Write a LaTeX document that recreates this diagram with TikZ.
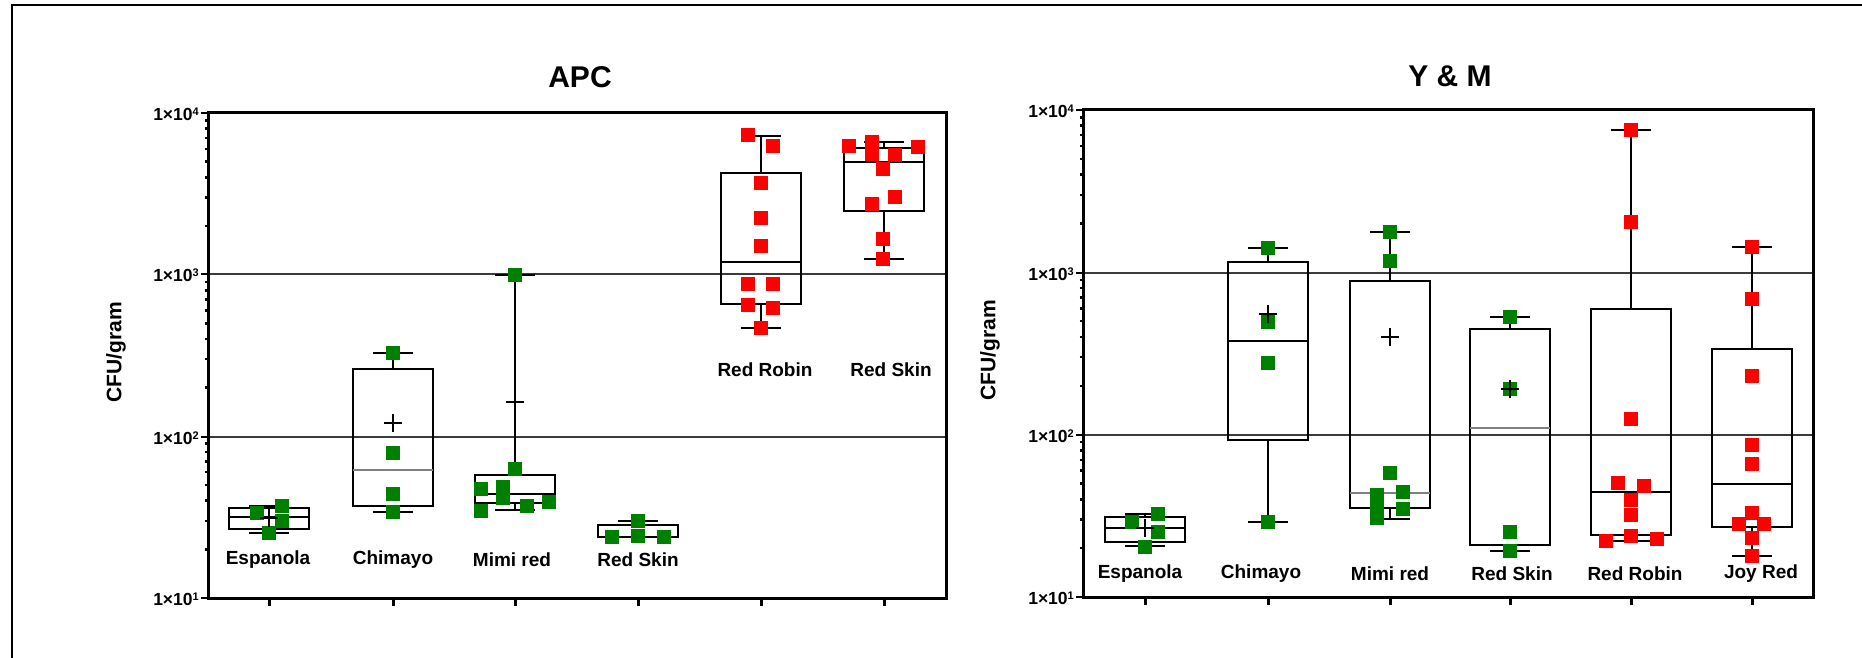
\documentclass[tikz,border=0pt]{standalone}
\usepackage{fontspec}
\setmainfont{Liberation Sans}
\definecolor{ptgreen}{RGB}{0,128,0}
\definecolor{ptred}{RGB}{255,0,0}
\definecolor{gridc}{RGB}{60,60,60}
\newcommand\bxp[8]{%
 \draw[line width=#7] ({#1-40},#2) rectangle ({#1+40},#3);
 \draw[line width=#7,#8] ({#1-40},#4) -- ({#1+40},#4);
 \draw[line width=#7] (#1,#2) -- (#1,#5) ({#1-20},#5) -- ({#1+20},#5);
 \draw[line width=#7] (#1,#3) -- (#1,#6) ({#1-20},#6) -- ({#1+20},#6);
}
\newcommand\mnmark[2]{\draw[line width=1.3] ({#1-9},#2) -- ({#1+9},#2) (#1,{#2-9}) -- (#1,{#2+9});}
\newcommand\ticklab[2]{1×10\raisebox{5pt}{\fontsize{11}{11}\selectfont #2}}
\begin{document}
\begin{tikzpicture}[x=1pt,y=-1pt,
  gsq/.style={fill=ptgreen,draw=none,minimum size=13.5pt,inner sep=0pt,outer sep=0pt},
  rsq/.style={fill=ptred,draw=none,minimum size=13.5pt,inner sep=0pt,outer sep=0pt},
  lbl/.style={font=\fontsize{19}{19}\selectfont\bfseries,inner sep=0pt},
  ttl/.style={font=\fontsize{30}{30}\selectfont\bfseries,inner sep=0pt},
  tk/.style={font=\fontsize{17.5}{17.5}\selectfont\bfseries,inner sep=0pt,anchor=east},
  ylab/.style={font=\fontsize{21}{21}\selectfont\bfseries,inner sep=0pt,rotate=90},
  grid/.style={draw=gridc,line width=1.6},
  ax/.style={line width=3}]
\useasboundingbox (0,0) rectangle (1862,658);
\fill[white] (0,0) rectangle (1862,658);
% outer frame
\draw[line width=2] (12,658) -- (12,5) -- (1862,5);

% ================= APC =================
\node[ttl] (tapc) at (580,77) {APC};
\node[ylab] (yapc) at (116,352) {CFU/gram};
\draw[grid] (208,274) -- (946,274);
\draw[grid] (208,437) -- (946,437);
\foreach \d in {0,1,2} \foreach \k in {2,...,9} {
  \pgfmathsetmacro\yy{598-161.67*(\d+log10(\k))}
  \draw[line width=2.5] (204.5,\yy) -- (208,\yy);
}
\foreach \yy/\e in {113/4,274/3,437/2,598/1} {
  \draw[line width=2.5] (201,\yy) -- (208,\yy);
  \node[tk] at (199,{\yy+1}) {\ticklab{}{\e}};
}
\foreach \xx in {269,393,515,638,761,884} \draw[ax] (\xx,598) -- (\xx,606);
\draw[ax] (208,113) -- (946,113) -- (946,598) -- (208,598) -- cycle;

\bxp{269}{508}{529}{517}{506}{533}{1.5}{}
\bxp{393}{369}{506}{470}{353}{512}{1.5}{gray}
\bxp{515}{475}{503}{494}{275}{510}{1.5}{}
\bxp{638}{525}{537}{537}{521}{537}{1.5}{}
\bxp{761}{173}{304}{262}{136}{328}{2.5}{}
\bxp{884}{148}{211}{162}{142}{259}{2.5}{}

\foreach \p in {(257,513),(282,506),(282,521),(269,533),
  (393,353),(393,453),(393,494),(393,512),
  (515,275),(515,469),(481,489),(503,487),(503,498),(527,506),(549,502),(481,511),
  (638,521),(612,537),(638,536),(664,537)} \node[gsq] at \p {};
\foreach \p in {(748,135),(773,146),(761,183),(761,218),(761,246),(748,284),(773,284),(748,305),(773,308),(761,328),
  (849,146),(872,142),(872,154),(895,155),(918,147),(883,169),(895,197),(872,204),(883,239),(883,259)} \node[rsq] at \p {};
\mnmark{269}{518}
\mnmark{393}{423}
\mnmark{515}{402}

\node[lbl] (a1) at (268,560) {Espanola};
\node[lbl] (a2) at (393,560) {Chimayo};
\node[lbl] (a3) at (512,560) {Mimi red};
\node[lbl] (a4) at (638,560) {Red Skin};
\node[lbl] (a5) at (765,370) {Red Robin};
\node[lbl] (a6) at (891,370) {Red Skin};

% ================= Y & M =================
\node[ttl] (tym) at (1450,76) {Y \& M};
\node[ylab] (yym) at (990,350) {CFU/gram};
\draw[grid] (1083,273) -- (1813,273);
\draw[grid] (1083,435) -- (1813,435);
\foreach \d in {0,1,2} \foreach \k in {2,...,9} {
  \pgfmathsetmacro\yy{597-162.33*(\d+log10(\k))}
  \draw[line width=2.5] (1079.5,\yy) -- (1083,\yy);
}
\foreach \yy/\e in {110/4,273/3,435/2,597/1} {
  \draw[line width=2.5] (1076,\yy) -- (1083,\yy);
  \node[tk] at (1074,{\yy+1}) {\ticklab{}{\e}};
}
\foreach \xx in {1145,1268,1390,1510,1631,1752} \draw[ax] (\xx,597) -- (\xx,605);
\draw[ax] (1083,110) -- (1813,110) -- (1813,597) -- (1083,597) -- cycle;

\bxp{1145}{517}{542}{528}{514}{546}{1.5}{}
\bxp{1268}{262}{440}{341}{248}{522}{1.5}{}
\bxp{1390}{281}{508}{493}{232}{519}{1.5}{gray}
\bxp{1510}{329}{545}{428}{317}{551}{1.5}{gray}
\bxp{1631}{309}{535}{492}{130}{541}{2.5}{}
\bxp{1752}{349}{527}{484}{247}{556}{2.5}{}

\foreach \p in {(1132,522),(1158,514),(1158,532),(1145,547),
  (1268,248),(1268,322),(1268,363),(1268,522),
  (1390,232),(1390,261),(1390,473),(1403,492),(1403,509),(1377,495),(1377,505),(1377,518),
  (1510,317),(1510,389),(1510,532),(1510,551)} \node[gsq] at \p {};
\foreach \p in {(1631,130),(1631,222),(1631,419),(1618,483),(1644,486),(1631,500),(1631,515),(1631,536),(1606,541),(1657,539),
  (1752,247),(1752,299),(1752,376),(1752,445),(1752,464),(1752,513),(1739,524),(1764,524),(1752,538),(1752,556)} \node[rsq] at \p {};
\mnmark{1145}{528}
\mnmark{1268}{314}
\mnmark{1390}{337}
\mnmark{1510}{389}

\node[lbl] (b1) at (1140,574) {Espanola};
\node[lbl] (b2) at (1261,574) {Chimayo};
\node[lbl] (b3) at (1390,574) {Mimi red};
\node[lbl] (b4) at (1512,574) {Red Skin};
\node[lbl] (b5) at (1635,574) {Red Robin};
\node[lbl] (b6) at (1761,574) {Joy Red};
\end{tikzpicture}
\end{document}
